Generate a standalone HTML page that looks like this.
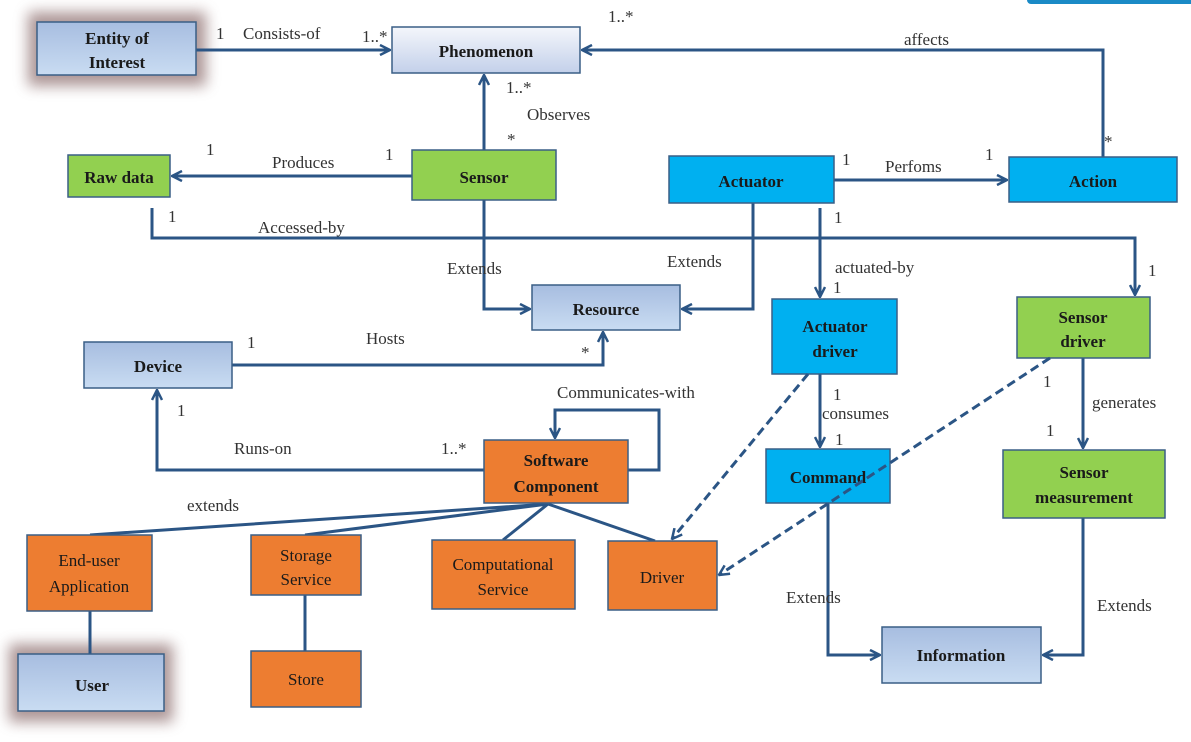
<!DOCTYPE html>
<html><head><meta charset="utf-8"><style>
html,body{margin:0;padding:0;background:#fff;}
svg{display:block;}
text{font-family:"Liberation Serif",serif;}
.b{font-weight:bold;font-size:17px;fill:#1a1a1a;text-anchor:middle;}
.l{font-size:17px;fill:#333;}
.c{stroke:#2b5585;stroke-width:3;fill:none;}
.d{stroke:#2b5585;stroke-width:3;fill:none;stroke-dasharray:9 5;}
.box{stroke:#3a5f86;stroke-width:1.5;}
</style></head><body>
<svg width="1191" height="742" viewBox="0 0 1191 742" xmlns="http://www.w3.org/2000/svg">
<defs>
<linearGradient id="lb" x1="0" y1="0" x2="0" y2="1"><stop offset="0" stop-color="#a7bde0"/><stop offset="1" stop-color="#c9dcf2"/></linearGradient>
<linearGradient id="wb" x1="0" y1="0" x2="0" y2="1"><stop offset="0" stop-color="#f4f6fb"/><stop offset="1" stop-color="#c3d0ea"/></linearGradient>
<filter id="glow" x="-30%" y="-40%" width="160%" height="180%"><feGaussianBlur stdDeviation="7"/></filter>
<marker id="a" viewBox="0 0 12 12" refX="11" refY="6" markerWidth="12" markerHeight="12" markerUnits="userSpaceOnUse" orient="auto"><path d="M1,1 L11,6 L1,11" fill="none" stroke="#2b5585" stroke-width="2.5"/></marker>
</defs>
<rect x="1027" y="-6" width="170" height="10" rx="4" fill="#1a8ac6"/>
<rect x="28" y="12" width="178" height="74" fill="#8a6a6a" opacity="0.7" filter="url(#glow)"/>
<rect x="9" y="644" width="164" height="78" fill="#8a6a6a" opacity="0.7" filter="url(#glow)"/>

<path class="c" d="M196,50 L390,50" marker-end="url(#a)"/>
<path class="c" d="M484,150 L484,75" marker-end="url(#a)"/>
<path class="c" d="M412,176 L172,176" marker-end="url(#a)"/>
<path class="c" d="M1103,157 L1103,50 L582,50" marker-end="url(#a)"/>
<path class="c" d="M834,180 L1007,180" marker-end="url(#a)"/>
<path class="c" d="M152,208 L152,238 L1135,238 L1135,295" marker-end="url(#a)"/>
<path class="c" d="M484,200 L484,309 L530,309" marker-end="url(#a)"/>
<path class="c" d="M753,203 L753,309 L682,309" marker-end="url(#a)"/>
<path class="c" d="M820,208 L820,297" marker-end="url(#a)"/>
<path class="c" d="M232,365 L603,365 L603,332" marker-end="url(#a)"/>
<path class="c" d="M484,470 L157,470 L157,390" marker-end="url(#a)"/>
<path class="c" d="M628,470 L659,470 L659,410 L555,410 L555,438" marker-end="url(#a)"/>
<path class="c" d="M548,504 L90,535 M548,504 L305,535 M548,504 L503,540 M548,504 L655,541"/>
<path class="c" d="M90,611 L90,654 M305,595 L305,651"/>
<path class="c" d="M820,374 L820,447" marker-end="url(#a)"/>
<path class="c" d="M1083,358 L1083,448" marker-end="url(#a)"/>
<path class="c" d="M828,503 L828,655 L880,655" marker-end="url(#a)"/>
<path class="c" d="M1083,518 L1083,655 L1043,655" marker-end="url(#a)"/>

<rect class="box" x="37" y="22" width="159" height="53" fill="url(#lb)"/>
<text class="b" x="117" y="44">Entity of</text><text class="b" x="117" y="68">Interest</text>
<rect class="box" x="392" y="27" width="188" height="46" fill="url(#wb)"/>
<text class="b" x="486" y="57">Phenomenon</text>
<rect class="box" x="68" y="155" width="102" height="42" fill="#92d050"/>
<text class="b" x="119" y="183">Raw data</text>
<rect class="box" x="412" y="150" width="144" height="50" fill="#92d050"/>
<text class="b" x="484" y="183">Sensor</text>
<rect class="box" x="669" y="156" width="165" height="47" fill="#00b0f0"/>
<text class="b" x="751" y="187">Actuator</text>
<rect class="box" x="1009" y="157" width="168" height="45" fill="#00b0f0"/>
<text class="b" x="1093" y="187">Action</text>
<rect class="box" x="532" y="285" width="148" height="45" fill="url(#lb)"/>
<text class="b" x="606" y="315">Resource</text>
<rect class="box" x="84" y="342" width="148" height="46" fill="url(#lb)"/>
<text class="b" x="158" y="372">Device</text>
<rect class="box" x="772" y="299" width="125" height="75" fill="#00b0f0"/>
<text class="b" x="835" y="332">Actuator</text><text class="b" x="835" y="357">driver</text>
<rect class="box" x="1017" y="297" width="133" height="61" fill="#92d050"/>
<text class="b" x="1083" y="323">Sensor</text><text class="b" x="1083" y="347">driver</text>
<rect class="box" x="484" y="440" width="144" height="63" fill="#ed7d31"/>
<text class="b" x="556" y="466">Software</text><text class="b" x="556" y="492">Component</text>
<rect class="box" x="766" y="449" width="124" height="54" fill="#00b0f0"/>
<text class="b" x="828" y="483">Command</text>
<rect class="box" x="1003" y="450" width="162" height="68" fill="#92d050"/>
<text class="b" x="1084" y="478">Sensor</text><text class="b" x="1084" y="503">measurement</text>
<rect class="box" x="27" y="535" width="125" height="76" fill="#ed7d31"/>
<text class="b" x="89" y="566" style="font-weight:normal">End-user</text><text class="b" x="89" y="592" style="font-weight:normal">Application</text>
<rect class="box" x="251" y="535" width="110" height="60" fill="#ed7d31"/>
<text class="b" x="306" y="561" style="font-weight:normal">Storage</text><text class="b" x="306" y="585" style="font-weight:normal">Service</text>
<rect class="box" x="432" y="540" width="143" height="69" fill="#ed7d31"/>
<text class="b" x="503" y="570" style="font-weight:normal">Computational</text><text class="b" x="503" y="595" style="font-weight:normal">Service</text>
<rect class="box" x="608" y="541" width="109" height="69" fill="#ed7d31"/>
<text class="b" x="662" y="583" style="font-weight:normal">Driver</text>
<rect class="box" x="18" y="654" width="146" height="57" fill="url(#lb)"/>
<text class="b" x="92" y="691">User</text>
<rect class="box" x="251" y="651" width="110" height="56" fill="#ed7d31"/>
<text class="b" x="306" y="685" style="font-weight:normal">Store</text>
<rect class="box" x="882" y="627" width="159" height="56" fill="url(#lb)"/>
<text class="b" x="961" y="661">Information</text>

<path class="d" d="M808,374 L672,539" marker-end="url(#a)"/>
<path class="d" d="M1050,358 L719,575" marker-end="url(#a)"/>

<text class="l" x="216" y="39">1</text><text class="l" x="243" y="39">Consists-of</text><text class="l" x="362" y="42">1..*</text>
<text class="l" x="608" y="22">1..*</text><text class="l" x="904" y="45">affects</text>
<text class="l" x="506" y="93">1..*</text><text class="l" x="527" y="120">Observes</text><text class="l" x="507" y="145">*</text>
<text class="l" x="206" y="155">1</text><text class="l" x="272" y="168">Produces</text><text class="l" x="385" y="160">1</text>
<text class="l" x="842" y="165">1</text><text class="l" x="885" y="172">Perfoms</text><text class="l" x="985" y="160">1</text><text class="l" x="1104" y="147">*</text>
<text class="l" x="168" y="222">1</text><text class="l" x="258" y="233">Accessed-by</text>
<text class="l" x="834" y="223">1</text>
<text class="l" x="447" y="274">Extends</text><text class="l" x="667" y="267">Extends</text>
<text class="l" x="835" y="273">actuated-by</text><text class="l" x="833" y="293">1</text>
<text class="l" x="1148" y="276">1</text>
<text class="l" x="247" y="348">1</text><text class="l" x="366" y="344">Hosts</text><text class="l" x="581" y="358">*</text>
<text class="l" x="177" y="416">1</text><text class="l" x="557" y="398">Communicates-with</text>
<text class="l" x="234" y="454">Runs-on</text><text class="l" x="441" y="454">1..*</text>
<text class="l" x="187" y="511">extends</text>
<text class="l" x="833" y="400">1</text><text class="l" x="822" y="419">consumes</text><text class="l" x="835" y="445">1</text>
<text class="l" x="1043" y="387">1</text><text class="l" x="1092" y="408">generates</text><text class="l" x="1046" y="436">1</text>
<text class="l" x="786" y="603">Extends</text><text class="l" x="1097" y="611">Extends</text>
</svg>
</body></html>
